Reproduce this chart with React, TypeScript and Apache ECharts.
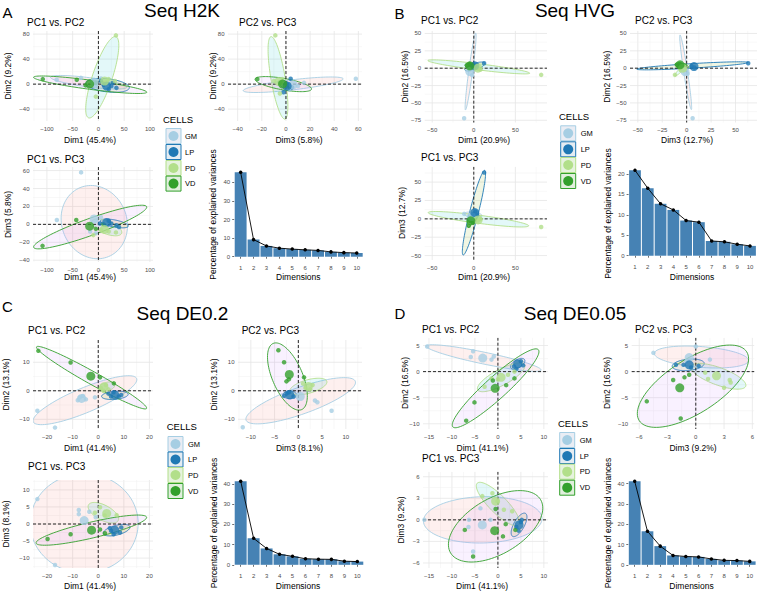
import { useEffect, useRef } from 'react';
import * as echarts from 'echarts';

// ---------- groups & colours ----------
const GROUPS = ['GM', 'LP', 'PD', 'VD'];
const GROUP_COLORS = ['#A6CEE3', '#1F78B4', '#B2DF8A', '#33A02C'];
const ELLIPSE_FILLS = ['rgba(248,118,109,0.11)', 'rgba(124,174,0,0.11)', 'rgba(0,191,196,0.11)', 'rgba(199,124,255,0.11)'];
const KEY_FILLS = ['#EAEDF4', '#E4ECF2', '#E6F3DE', '#E1EFDD'];

// ---------- scree data ----------
const DIMENSIONS = ['1', '2', '3', '4', '5', '6', '7', '8', '9', '10'];
const SCREE_A = [45.4, 9.2, 5.8, 4.6, 4.1, 3.7, 3.4, 2.6, 2.2, 2.0];
const SCREE_B = [20.9, 16.5, 12.7, 11.2, 8.6, 8.2, 3.6, 3.4, 2.8, 2.4];
const SCREE_C = [41.4, 13.1, 8.1, 5.2, 4.2, 3.0, 2.8, 2.7, 1.8, 1.6];
const SCREE_D = [41.1, 16.5, 9.2, 4.6, 4.1, 3.9, 2.9, 2.2, 2.1, 1.7];

// ---------- individual points: [x, y, group] ----------
const A12_PTS = [[-81, 7, 0], [-34, 10, 0], [5, 9, 0], [20, 2, 0], [30, -5, 0], [-5, -3, 0],
  [5, 5, 1], [25, -3, 1], [35, -6, 1], [20, -8, 1], [10, -1, 1], [28, 2, 1],
  [34, 78, 2], [32, 5, 2], [-5, -20, 2], [15, 2, 2], [20, 8, 2],
  [-108, 8, 3], [-42, 7, 3], [-25, -2, 3], [-5, 2, 3]];
const A23_PTS = [[57.9, 8.5, 0], [10, -3, 0], [3, -8, 0], [15, 2, 0],
  [3.9, 8.5, 1], [-2, -13, 1], [2, -2, 1], [5, -5, 1],
  [-8.8, 78, 2], [-10, 5, 2], [-5, -15, 2], [-3, 8, 2],
  [-23.7, 8, 3], [-5, 3, 3], [0, 1, 3], [2, -4, 3]];
const A13_PTS = [[-33.6, 58, 0], [-80.7, 4.8, 0], [-16, -8, 0], [5, 8, 0], [-5, -10, 0],
  [25, 1, 1], [35, -1, 1], [3, 1, 1], [40, -3, 1], [20, 4, 1],
  [34, -9, 2], [5, -6, 2], [20, -8, 2], [-10, -12, 2],
  [-43, 4.8, 3], [-108.5, -24, 3], [-5, -5, 3], [10, 0, 3]];
const B12_PTS = [[-11.6, -72, 0], [-2, -10, 0], [-6, 3, 0], [0, -2, 0],
  [12.4, 7.2, 1], [-3, 4, 1], [2, 2, 1], [0, 5, 1],
  [81, -9.6, 2], [5, 0, 2], [8, -2, 2], [-2, 1, 2],
  [-8, 4, 3], [-5, 6, 3], [-2, 1, 3], [2, 3, 3], [-6, 0, 3]];
const B23_PTS = [[6.1, -72, 0], [-2, -3, 0], [1, -8, 0],
  [63, 7.2, 1], [5, 3, 1], [8, 1, 1], [-3, 2, 1],
  [-12, -9.6, 2], [-6, -3, 2], [-3, 1, 2],
  [-10, 5, 3], [-7, 6, 3], [-4, 3, 3], [-2, 4, 3], [-8, 2, 3]];
const B13_PTS = [[-11.6, 6.8, 0], [-2, 2, 0], [2, 4, 0],
  [12.4, 63, 1], [2, 10, 1], [-2, 6, 1], [4, 5, 1],
  [81, -11, 2], [5, -2, 2], [8, 0, 2], [-3, -3, 2],
  [-6, -9.5, 3], [-4, -3, 3], [-1, -5, 3], [1, 0, 3]];
const C12_PTS = [[-23.8, -7, 0], [-16.9, -12.9, 0], [-7.2, -2.3, 0], [-4.8, -3, 0], [-1.3, -2.3, 0], [-8, -3.3, 0], [-6, -1.8, 0],
  [4, -1, 1], [8, -2, 1], [6, -0.5, 1], [9, -1.5, 1], [5, -2, 1],
  [1, 1, 2], [3, 2, 2], [4, 0.5, 2], [2, 0, 2],
  [-23.4, 14, 3], [-10.8, 9.9, 3], [0.7, 4.7, 3], [6.1, 2.6, 3]];
const C23_PTS = [[-11.7, -12.8, 0], [7, -7, 0], [3.5, -3.4, 0], [4, -4, 0], [-1, -2, 0],
  [-2.5, -1, 1], [-1, -2, 1], [-2, -0.5, 1], [-3, -1.8, 1],
  [1.5, 1, 2], [3, 2, 2], [2.5, 0.5, 2], [1, 2.5, 2],
  [-4.2, 14.2, 3], [-3, 10, 3], [-2.5, 3.3, 3], [1.2, 4.7, 3], [-2, 4, 3]];
const C13_PTS = [[-23.8, 7.3, 0], [-16.9, -12, 0], [-7.6, 4.1, 0], [-7.6, 2.9, 0], [-3.5, 3.6, 0], [-1, 2, 0],
  [4.5, -1.2, 1], [8.5, -2.5, 1], [6, -3, 1], [9, -1, 1], [5, -2, 1],
  [-1.3, 3.3, 2], [7.2, 2.6, 2], [0.7, 4.9, 2], [2.5, 2.5, 2],
  [-19.8, -4.4, 3], [-10.8, -3, 3], [0.7, -1.6, 3], [2.6, -2.7, 3]];
const D12_PTS = [[-15.4, 4.8, 0], [-5.4, 3.9, 0], [-5.9, 2.8, 0], [-1.4, 2.3, 0], [-0.9, 2.9, 0],
  [3.5, 1, 1], [5, 2, 1], [4, 0.5, 1], [5.5, 1.2, 1],
  [-2.9, -2.9, 2], [-1.4, -1.3, 2], [2.2, -0.6, 2], [3.6, 0, 2], [0, -1.5, 2],
  [-5.1, -5.9, 3], [-6.9, -9.4, 3], [1.8, -2.6, 3], [3.6, -1.3, 3], [-1.1, -1.7, 3]];
const D23_PTS = [[-4.5, 3.6, 0], [0, 4.8, 0], [1.5, 2.3, 0], [-1, 2, 0],
  [-2.1, 1.3, 1], [-1.3, 1.3, 1], [0.3, 1.1, 1], [-0.5, 0.8, 1],
  [1, -0.2, 2], [3.6, -1.6, 2], [3.7, -2.1, 2], [3, -3.1, 2], [1.3, -1.4, 2],
  [-2.4, -1.6, 3], [-1.2, -1.1, 3], [-0.7, -0.6, 3], [-5.2, -5.7, 3], [-1.6, -9, 3]];
const D13_PTS = [[-16, 0, 0], [-5.4, -4.4, 0], [-6.3, 0, 0], [-6.4, -1, 0], [-1.6, 0, 0], [-3.8, 1.6, 0],
  [4, -1, 1], [5, -0.3, 1], [4.5, -1.5, 1], [5.2, 0, 1],
  [-3.4, 3.3, 2], [-1.2, 3.7, 2], [-0.1, 2.6, 2], [1.3, 1.4, 2], [3.1, 1.2, 2],
  [-5.4, -5.1, 3], [-7.2, -1.4, 3], [1.7, -0.6, 3], [1.1, -2.3, 3], [-0.5, 1.5, 3], [3.8, -1.4, 3]];

// ---------- group means (GM, LP, PD, VD) ----------
const A12_MEANS = [[-8, 3], [16, -3], [12, 5], [-17, 0]];
const A23_MEANS = [[6, -1], [1, -3], [-6, 4], [-2.8, 0]];
const A13_MEANS = [[-8.4, 6], [16, 2], [11.6, -5.6], [-17, -2]];
const B12_MEANS = [[-4.8, -4.8], [1.2, 3.4], [5, 0], [-4.8, 3.4]];
const B23_MEANS = [[-1.7, -4.8], [7.5, 2.4], [-4, 0], [-6.8, 4.8]];
const B13_MEANS = [[-2.8, 3.2], [1.2, 8.6], [5.2, -1.4], [-3.6, -2.7]];
const C12_MEANS = [[-6.5, -2.7], [6.5, -1.5], [2.2, 1.4], [-2.9, 5.1]];
const C23_MEANS = [[0.4, -2], [-1.8, -1.4], [2.1, 1.5], [-1.9, 5.7]];
const C13_MEANS = [[-5.5, 1], [6.5, -1.8], [3.3, 3.1], [-2.6, -1.8]];
const D12_MEANS = [[-3.3, 2.6], [4.3, 1.5], [0.7, -1.1], [-0.6, -3.2]];
const D23_MEANS = [[-0.7, 2.7], [-0.7, 1.3], [2.2, -0.8], [-1.7, -3.1]];
const D13_MEANS = [[-3.4, -0.7], [4.6, -0.7], [-0.5, 2.6], [-0.7, -1.5]];

// ---------- concentration ellipses: [centerX, centerY, majorEndX, majorEndY, minor/major ratio] ----------
const A12_ELL = [[-19, 3, 55, -5, 0.12], [18, -2, 60, -6, 0.3], [7.5, 11, 34, 76, 0.23], [-16, -1, 94, -13, 0.08]];
const A23_ELL = [[6, -1, 47.4, 8.5, 0.1], [-0.3, -2, 4.7, -9, 0.5], [-6.6, 10, -12.4, 76, 0.17], [-2.2, 0, 21.2, -8, 0.2]];
const A13_ELL = [[-8, 2.5, -35.5, 41, 0.87], [31, 1, 58, -2, 0.25], [16, -3.4, 45, -10, 0.4], [-16, -3, 93.7, 19.7, 0.14]];
const B12_ELL = [[-3.8, -4.8, 2.4, 50.5, 0.05], [1.2, 2.4, 13.2, 7.2, 0.3], [6, 1.9, 67.2, -7.2, 0.06], [-3.6, 2.4, -10.8, 4.8, 0.4]];
const B23_ELL = [[-1, -5.8, -6.8, 48, 0.05], [6, 3.4, 63, 8.2, 0.04], [-6, -2.4, -12, -11, 0.2], [-5, 3.4, -12, 5.8, 0.35]];
const B13_ELL = [[-0.8, 5.5, -11.6, 6.8, 0.3], [0.2, 8.4, 13.2, 66, 0.1], [5.6, -0.5, 66, -9.5, 0.08], [-3.6, -1.4, -6.8, -11.4, 0.3]];
const C12_ELL = [[-5.2, -3.3, 15, 4.3, 0.22], [6.5, -1.6, 11.7, -1.2, 0.3], [3.3, 1.4, 6.5, 2.3, 0.5], [-2.6, 4.6, 18.9, -6.2, 0.1]];
const C23_ELL = [[0.5, -3.5, 12, 3.3, 0.23], [-1.8, -1.4, -3.2, -1.4, 0.6], [2.1, 1.5, 6, 3.3, 0.35], [-2.3, 5, -5.3, 16.6, 0.42]];
const C13_ELL = [[-5.5, 0.2, 15.6, 0.2, 0.92], [7.2, -1.8, 12.4, -0.8, 0.35], [2, 3.3, 7.8, 1, 0.45], [-2.7, -1.8, 18.9, 2, 0.14]];
const D12_ELL = [[-3.1, 2.6, 9.4, 0.3, 0.1], [4.3, 1.5, 5.8, 2.3, 0.5], [0.7, -1.1, 5.8, 1.3, 0.3], [-0.5, -3.2, 8.8, 4.2, 0.19]];
const D23_ELL = [[0.6, 2.8, 5.6, 2.1, 0.22], [-0.8, 1.3, 0.9, 1.6, 0.35], [2.4, -0.9, 5.3, -2.8, 0.3], [-0.3, -2.8, 5.4, 3.8, 0.42]];
const D13_ELL = [[-3.3, 0, 9.6, 0.2, 0.39], [4.6, -0.7, 6, 0.9, 0.4], [0, 2.2, -4.5, 5.1, 0.3], [-0.5, -0.9, 9.3, 2.8, 0.53]];

// ---------- tick labels ----------
const TX_A1 = [-100, -50, 0, 50, 100];
const TY_A12 = [-40, 0, 40, 80];
const TX_A2 = [-40, -20, 0, 20, 40, 60];
const TY_A3 = [-40, -20, 0, 20, 40, 60];
const TX_B1 = [-50, 0, 50];
const TY_B12 = [-75, -50, -25, 0, 25, 50];
const TX_B2 = [-50, -25, 0, 25, 50];
const TY_B3 = [-50, -25, 0, 25, 50];
const TX_C1 = [-20, -10, 0, 10, 20];
const TY_C12 = [-10, 0, 10];
const TX_C2 = [-10, -5, 0, 5, 10];
const TY_C3 = [-10, -5, 0, 5, 10];
const TX_D1 = [-15, -10, -5, 0, 5, 10];
const TY_D12 = [-10, -5, 0, 5];
const TX_D2 = [-6, -3, 0, 3, 6];
const TY_D3 = [-6, -3, 0, 3, 6];
const TY_SCREE_40 = [0, 10, 20, 30, 40];
const TY_SCREE_20 = [0, 5, 10, 15, 20];

const FF = '"Liberation Sans", Arial, Helvetica, sans-serif';

// ---------- layout ----------
const SCATTERS = [
  { rect: [33, 31, 120, 90], x: [-127, 106], y: [-59, 85], xt: TX_A1, yt: TY_A12, pts: A12_PTS, means: A12_MEANS, ell: A12_ELL,
    title: 'PC1 vs. PC2', tp: [27, 22], xl: 'Dim1 (45.4%)', xlp: [90, 140], yl: 'Dim2 (9.2%)', ylp: [7.5, 76] },
  { rect: [228, 31, 134, 90], x: [-48, 63], y: [-59, 85], xt: TX_A2, yt: TY_A12, pts: A23_PTS, means: A23_MEANS, ell: A23_ELL,
    title: 'PC2 vs. PC3', tp: [239, 22], xl: 'Dim3 (5.8%)', xlp: [299, 140], yl: 'Dim2 (9.2%)', ylp: [213, 76] },
  { rect: [33, 167, 120, 95], x: [-127, 106], y: [-42, 64], xt: TX_A1, yt: TY_A3, pts: A13_PTS, means: A13_MEANS, ell: A13_ELL,
    title: 'PC1 vs. PC3', tp: [27, 159], xl: 'Dim1 (45.4%)', xlp: [90, 277], yl: 'Dim3 (5.8%)', ylp: [7.5, 214.5] },
  { rect: [424.7, 30.7, 122.3, 92], x: [-59, 88], y: [-78.5, 54], xt: TX_B1, yt: TY_B12, pts: B12_PTS, means: B12_MEANS, ell: B12_ELL,
    title: 'PC1 vs. PC2', tp: [421, 20.5], xl: 'Dim1 (20.9%)', xlp: [484, 139.5], yl: 'Dim2 (16.5%)', ylp: [405, 76.7] },
  { rect: [630, 30.7, 127, 92], x: [-58, 72], y: [-78.5, 54], xt: TX_B2, yt: TY_B12, pts: B23_PTS, means: B23_MEANS, ell: B23_ELL,
    title: 'PC2 vs. PC3', tp: [635, 20.5], xl: 'Dim3 (12.7%)', xlp: [687, 139.5], yl: 'Dim2 (16.5%)', ylp: [607, 76.7] },
  { rect: [424.7, 166.7, 122.3, 93.3], x: [-59, 88], y: [-56, 71], xt: TX_B1, yt: TY_B3, pts: B13_PTS, means: B13_MEANS, ell: B13_ELL,
    title: 'PC1 vs. PC3', tp: [421, 157], xl: 'Dim1 (20.9%)', xlp: [484, 277], yl: 'Dim3 (12.7%)', ylp: [402, 213] },
  { rect: [33, 340, 120, 89], x: [-25.5, 21.4], y: [-13.4, 17.8], xt: TX_C1, yt: TY_C12, pts: C12_PTS, means: C12_MEANS, ell: C12_ELL,
    title: 'PC1 vs. PC2', tp: [28, 330], xl: 'Dim1 (41.4%)', xlp: [90, 448.3], yl: 'Dim2 (13.1%)', ylp: [6, 384.5] },
  { rect: [238, 340, 124, 89], x: [-12.7, 13.4], y: [-13.4, 17.8], xt: TX_C2, yt: TY_C12, pts: C23_PTS, means: C23_MEANS, ell: C23_ELL,
    title: 'PC2 vs. PC3', tp: [241.7, 330], xl: 'Dim3 (8.1%)', xlp: [299.5, 448.3], yl: 'Dim2 (13.1%)', ylp: [214, 384.5] },
  { rect: [33, 480, 120, 88], x: [-25.5, 21.4], y: [-12.9, 12.9], xt: TX_C1, yt: TY_C3, pts: C13_PTS, means: C13_MEANS, ell: C13_ELL,
    title: 'PC1 vs. PC3', tp: [28, 466], xl: 'Dim1 (41.4%)', xlp: [90, 585.7], yl: 'Dim3 (8.1%)', ylp: [6, 524] },
  { rect: [423, 337.7, 125, 91.3], x: [-16.3, 10.9], y: [-11, 6.5], xt: TX_D1, yt: TY_D12, pts: D12_PTS, means: D12_MEANS, ell: D12_ELL,
    title: 'PC1 vs. PC2', tp: [422, 329], xl: 'Dim1 (41.1%)', xlp: [482.5, 447.8], yl: 'Dim2 (16.5%)', ylp: [405, 383] },
  { rect: [631.7, 337.7, 125.3, 91.3], x: [-6.8, 6.2], y: [-11, 6.5], xt: TX_D2, yt: TY_D12, pts: D23_PTS, means: D23_MEANS, ell: D23_ELL,
    title: 'PC2 vs. PC3', tp: [635, 329.3], xl: 'Dim3 (9.2%)', xlp: [693, 447.8], yl: 'Dim2 (16.5%)', ylp: [606.7, 383] },
  { rect: [423, 471.7, 125, 96.3], x: [-16.3, 10.9], y: [-6.7, 6.7], xt: TX_D1, yt: TY_D3, pts: D13_PTS, means: D13_MEANS, ell: D13_ELL,
    title: 'PC1 vs. PC3', tp: [422, 458.6], xl: 'Dim1 (41.1%)', xlp: [482, 585.7], yl: 'Dim3 (9.2%)', ylp: [401, 520] },
];

const SCREES = [
  { rect: [234.2, 168, 129, 93], y: [-2.3, 47.7], yt: TY_SCREE_40, vals: SCREE_A, xlp: [298.3, 277.3], ylp: [213.3, 214.5] },
  { rect: [628.6, 167, 127.8, 93], y: [-1.05, 21.7], yt: TY_SCREE_20, vals: SCREE_B, xlp: [692, 277], ylp: [608, 213.5] },
  { rect: [234.2, 477, 129.6, 92], y: [-2.07, 43.47], yt: TY_SCREE_40, vals: SCREE_C, xlp: [298, 585.7], ylp: [214.3, 523] },
  { rect: [628.3, 477, 127.8, 92], y: [-2.05, 43.2], yt: TY_SCREE_40, vals: SCREE_D, xlp: [691.5, 585.7], ylp: [608, 523] },
];

const PANEL_HEADS = [
  { letter: 'A', lp: [2.5, 12.5], title: 'Seq H2K', tp: [182, 10.5] },
  { letter: 'B', lp: [394.5, 13], title: 'Seq HVG', tp: [575, 10.5] },
  { letter: 'C', lp: [2, 306.5], title: 'Seq DE0.2', tp: [182.5, 313.5] },
  { letter: 'D', lp: [394.5, 313], title: 'Seq DE0.05', tp: [575, 313.5] },
];

const LEGENDS = [
  { tx: 163, ty: 119, bx: 166, lx: 185, rows: [136, 152, 168, 183.6] },
  { tx: 559, ty: 116.7, bx: 560.7, lx: 580.7, rows: [133.3, 149.3, 165, 181] },
  { tx: 166.7, ty: 426.7, bx: 168, lx: 188, rows: [444, 459.5, 475, 491] },
  { tx: 558, ty: 423.3, bx: 559.7, lx: 579.7, rows: [440, 456, 471.7, 487.7] },
];

const fmt = (v: number) => String(v).replace('-', '\u2212');

function text(x: number, y: number, s: string, size: number, opt: any = {}) {
  return {
    type: 'text', x, y, rotation: opt.rotation || 0, silent: true, z: 100,
    style: {
      text: s, fontSize: size, fontFamily: FF, fill: opt.color || '#000',
      align: opt.align || 'left', verticalAlign: 'middle',
      textAlign: opt.align || 'left', textVerticalAlign: 'middle',
    },
  };
}

function gridLines(ticks: number[], range: number[], dir: number) {
  const out: number[][] = [];
  const step = ticks[1] - ticks[0];
  ticks.forEach((t) => { if (t >= range[0] && t <= range[1]) out.push([dir, t, 1]); });
  const minors = [ticks[0] - step / 2, ...ticks.map((t) => t + step / 2)];
  minors.forEach((m) => { if (m >= range[0] && m <= range[1]) out.push([dir, m, 0]); });
  return out;
}

function buildOption() {
  const grid: any[] = [];
  const xAxis: any[] = [];
  const yAxis: any[] = [];
  const series: any[] = [];
  const graphic: any[] = [];
  const labelStyle = { fontSize: 6, color: '#4D4D4D', fontFamily: FF };

  SCATTERS.forEach((p, i) => {
    grid.push({ left: p.rect[0], top: p.rect[1], width: p.rect[2], height: p.rect[3] });
    xAxis.push({
      type: 'value', gridIndex: i, min: p.x[0], max: p.x[1],
      axisLine: { show: false }, axisTick: { show: false }, splitLine: { show: false },
      axisLabel: { ...labelStyle, customValues: p.xt, formatter: fmt, margin: 4.5 },
    });
    yAxis.push({
      type: 'value', gridIndex: i, min: p.y[0], max: p.y[1],
      axisLine: { show: false }, axisTick: { show: false }, splitLine: { show: false },
      axisLabel: { ...labelStyle, customValues: p.yt, formatter: fmt, margin: 3.5 },
    });
    const gl = [...gridLines(p.xt, p.x, 0), ...gridLines(p.yt, p.y, 1)];
    series.push({
      type: 'custom', xAxisIndex: i, yAxisIndex: i, z: 1, silent: true, clip: true,
      data: gl,
      renderItem: (params: any, api: any) => {
        const cs = params.coordSys;
        const dir = api.value(0), v = api.value(1), major = api.value(2);
        let shape;
        if (dir === 0) {
          const px = api.coord([v, p.y[0]])[0];
          shape = { x1: px, y1: cs.y, x2: px, y2: cs.y + cs.height };
        } else {
          const py = api.coord([p.x[0], v])[1];
          shape = { x1: cs.x, y1: py, x2: cs.x + cs.width, y2: py };
        }
        return { type: 'line', shape, style: { stroke: major ? '#E6E6E6' : '#F1F1F1', lineWidth: major ? 0.8 : 0.5 } };
      },
    });
    series.push({
      type: 'custom', xAxisIndex: i, yAxisIndex: i, z: 2, silent: true, clip: true,
      data: p.ell.map((e, g) => [...e, g]),
      renderItem: (_params: any, api: any) => {
        const c = api.coord([api.value(0), api.value(1)]);
        const e = api.coord([api.value(2), api.value(3)]);
        const r = api.value(4), g = api.value(5);
        const ax = e[0] - c[0], ay = e[1] - c[1];
        const bx = -ay * r, by = ax * r;
        const pts: number[][] = [];
        for (let k = 0; k < 96; k++) {
          const t = (k / 96) * Math.PI * 2;
          pts.push([c[0] + Math.cos(t) * ax + Math.sin(t) * bx, c[1] + Math.cos(t) * ay + Math.sin(t) * by]);
        }
        return { type: 'polygon', shape: { points: pts }, style: { fill: ELLIPSE_FILLS[g], stroke: GROUP_COLORS[g], lineWidth: 0.9 } };
      },
    });
    series.push({
      type: 'custom', xAxisIndex: i, yAxisIndex: i, z: 3, silent: true, clip: true,
      data: [[0, 0]],
      renderItem: (params: any, api: any) => {
        const cs = params.coordSys;
        const o = api.coord([0, 0]);
        const st = { stroke: '#111', lineWidth: 0.9, lineDash: [3, 2] };
        return {
          type: 'group', children: [
            { type: 'line', shape: { x1: cs.x, y1: o[1], x2: cs.x + cs.width, y2: o[1] }, style: st },
            { type: 'line', shape: { x1: o[0], y1: cs.y, x2: o[0], y2: cs.y + cs.height }, style: st },
          ],
        };
      },
    });
    const data = [
      ...p.pts.map(([x, y, g]) => ({ value: [x, y], symbolSize: 4.5, itemStyle: { color: GROUP_COLORS[g] } })),
      ...p.means.map(([x, y], g) => ({ value: [x, y], symbolSize: 9, itemStyle: { color: GROUP_COLORS[g] } })),
    ];
    series.push({ type: 'scatter', xAxisIndex: i, yAxisIndex: i, z: 4, silent: true, data, symbol: 'circle' });

    graphic.push(text(p.tp[0], p.tp[1], p.title, 10));
    graphic.push(text(p.xlp[0], p.xlp[1], p.xl, 8.5, { align: 'center' }));
    graphic.push(text(p.ylp[0], p.ylp[1], p.yl, 8.5, { align: 'center', rotation: Math.PI / 2 }));
  });

  SCREES.forEach((s, j) => {
    const i = SCATTERS.length + j;
    grid.push({ left: s.rect[0], top: s.rect[1], width: s.rect[2], height: s.rect[3] });
    xAxis.push({
      type: 'category', gridIndex: i, data: DIMENSIONS,
      axisLine: { show: false }, splitLine: { show: false },
      axisTick: { show: true, alignWithLabel: true, length: 2, lineStyle: { color: '#333', width: 0.7 } },
      axisLabel: { ...labelStyle, margin: 4, interval: 0 },
    });
    yAxis.push({
      type: 'value', gridIndex: i, min: s.y[0], max: s.y[1],
      axisLine: { show: false }, splitLine: { show: false },
      axisTick: { show: true, length: 2, customValues: s.yt, lineStyle: { color: '#333', width: 0.7 } },
      axisLabel: { ...labelStyle, customValues: s.yt, margin: 4 },
    });
    series.push({
      type: 'bar', xAxisIndex: i, yAxisIndex: i, data: s.vals, barCategoryGap: '8%', silent: true,
      itemStyle: { color: '#4682B4' },
    });
    series.push({
      type: 'line', xAxisIndex: i, yAxisIndex: i, data: s.vals, silent: true, z: 5,
      symbol: 'circle', symbolSize: 3.5, itemStyle: { color: '#000' }, lineStyle: { color: '#000', width: 0.9 },
    });
    graphic.push(text(s.xlp[0], s.xlp[1], 'Dimensions', 8.5, { align: 'center' }));
    graphic.push(text(s.ylp[0], s.ylp[1], 'Percentage of explained variances', 8.5, { align: 'center', rotation: Math.PI / 2 }));
  });

  PANEL_HEADS.forEach((h) => {
    graphic.push(text(h.lp[0], h.lp[1], h.letter, 15));
    graphic.push(text(h.tp[0], h.tp[1], h.title, 19, { align: 'center' }));
  });

  LEGENDS.forEach((L) => {
    graphic.push(text(L.tx, L.ty, 'CELLS', 9.5));
    L.rows.forEach((cy, g) => {
      graphic.push({ type: 'rect', silent: true, z: 100, shape: { x: L.bx, y: cy - 7.5, width: 15, height: 15 },
        style: { fill: KEY_FILLS[g], stroke: GROUP_COLORS[g], lineWidth: 1 } });
      graphic.push({ type: 'circle', silent: true, z: 101, shape: { cx: L.bx + 7.5, cy, r: 5 }, style: { fill: GROUP_COLORS[g] } });
      graphic.push(text(L.lx, cy, GROUPS[g], 7.5));
    });
  });

  return { animation: false, backgroundColor: '#fff', grid, xAxis, yAxis, series, graphic };
}

export default function App() {
  const ref = useRef<HTMLDivElement>(null);
  useEffect(() => {
    const chart = echarts.init(ref.current!, undefined, { renderer: 'svg', width: 757, height: 591 });
    chart.setOption(buildOption() as any);
    return () => chart.dispose();
  }, []);
  return <div ref={ref} style={{ position: 'fixed', left: 0, top: 0, width: 757, height: 591, background: '#fff' }} />;
}
